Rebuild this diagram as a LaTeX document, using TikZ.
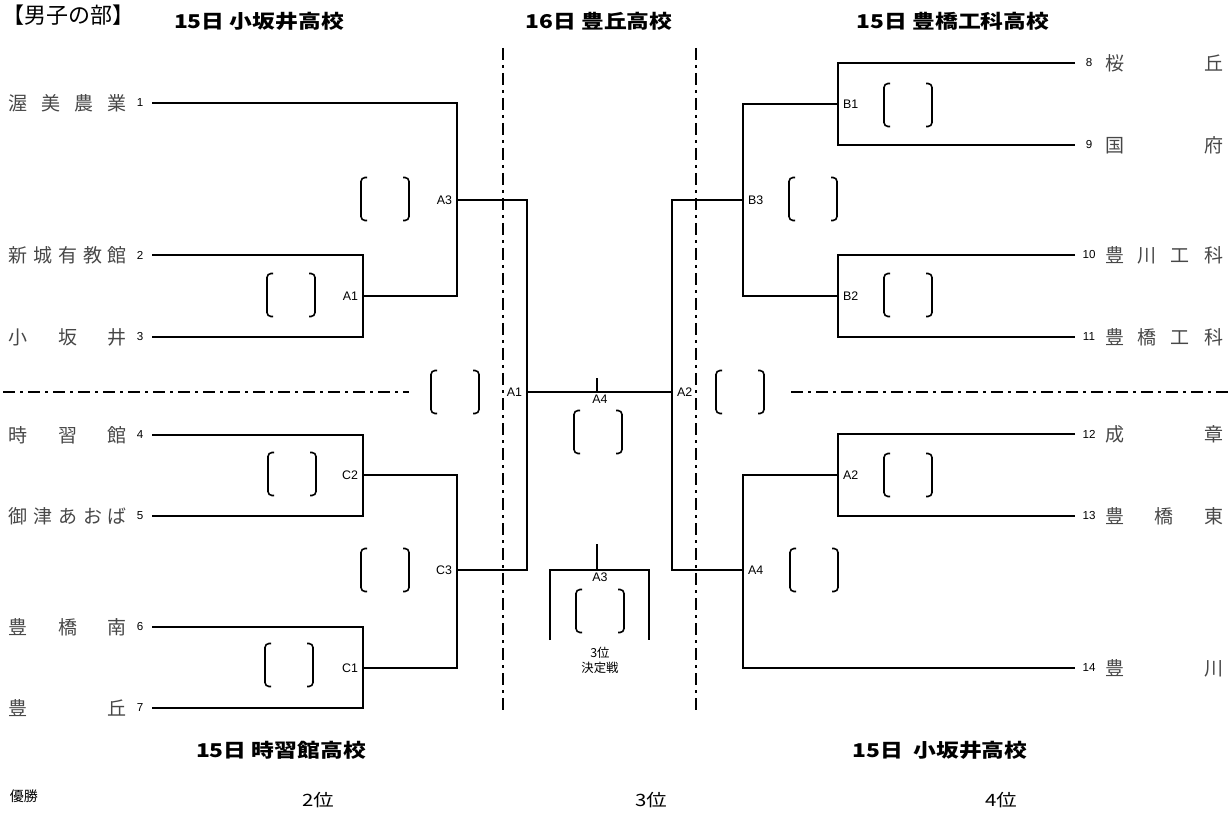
\documentclass[tikz,border=0pt]{standalone}
\usepackage{fontspec}
\setmainfont{Liberation Sans}
\newfontfamily\jp{Noto Sans CJK JP}
\newfontfamily\jpw{Noto Sans CJK JP}[FakeStretch=1.2]
\usetikzlibrary{calc}
\tikzset{
  every picture/.style={
    line width=1pt
  },
  team/.style={
    font=\jp\fontsize{9.5}{10}\selectfont, text=black!72,
    inner sep=0pt
  },
  seed/.style={
    font=\fontsize{5.8}{6}\selectfont, inner sep=0pt
  },
  game/.style={
    font=\fontsize{6.2}{7}\selectfont, inner sep=2pt
  },
  head/.style={
    font=\jpw\bfseries\fontsize{9.5}{10}\selectfont, inner sep=0pt
  },
  place/.style={
    font=\jpw\fontsize{8.5}{9}\selectfont, inner sep=0pt
  },
  sep/.style={
    dash pattern=on 6pt off 2.5pt on 1.5pt off 2.5pt
  },
  kakko/.pic={
    \draw[line width=0.8pt,rounded corners=2pt] (-18,-21.5) -- (-24,-21.5) -- (-24,21.5) -- (-18,21.5);
    \draw[line width=0.8pt,rounded corners=2pt] (18,-21.5) -- (24,-21.5) -- (24,21.5) -- (18,21.5);
  }
}
\newcommand\namebox[1]{\makebox[59pt]{#1}}

\begin{document}
\begin{tikzpicture}[x=0.5pt,y=-0.5pt]
    \useasboundingbox (0,0) rectangle (1232,818);
    \node [font=\jp\fontsize{11}{12}\selectfont,inner sep=0pt,anchor=west] (title) at (2,15) {【男子の部】};
    \node [head] (h1) at (259,21) {15日 小坂井高校};
    \node [head] (h2) at (599,21) {16日 豊丘高校};
    \node [head] (h3) at (953,21) {15日 豊橋工科高校};
    \node [head] (h4) at (281,750) {15日 時習館高校};
    \node [head] (h5) at (940,750) {15日\ \ 小坂井高校};

    \node [team,anchor=west] (n1) at (8,103) {\namebox{渥\hfill 美\hfill 農\hfill 業}};
    \node [team,anchor=west] (n2) at (8,255) {\namebox{新\hfill 城\hfill 有\hfill 教\hfill 館}};
    \node [team,anchor=west] (n3) at (8,337) {\namebox{小\hfill 坂\hfill 井}};
    \node [team,anchor=west] (n4) at (8,435) {\namebox{時\hfill 習\hfill 館}};
    \node [team,anchor=west] (n5) at (8,516) {\namebox{御\hfill 津\hfill あ\hfill お\hfill ば}};
    \node [team,anchor=west] (n6) at (8,627) {\namebox{豊\hfill 橋\hfill 南}};
    \node [team,anchor=west] (n7) at (8,708) {\namebox{豊\hfill 丘}};
    \node [team,anchor=west] (n8) at (1104,63) {\namebox{桜\hfill 丘}};
    \node [team,anchor=west] (n9) at (1104,145) {\namebox{国\hfill 府}};
    \node [team,anchor=west] (n10) at (1104,255) {\namebox{豊\hfill 川\hfill 工\hfill 科}};
    \node [team,anchor=west] (n11) at (1104,337) {\namebox{豊\hfill 橋\hfill 工\hfill 科}};
    \node [team,anchor=west] (n12) at (1104,434) {\namebox{成\hfill 章}};
    \node [team,anchor=west] (n13) at (1104,516) {\namebox{豊\hfill 橋\hfill 東}};
    \node [team,anchor=west] (n14) at (1104,668) {\namebox{豊\hfill 川}};

    \node [seed] (s1) at (140,103) {1};
    \node [seed] (s2) at (140,255) {2};
    \node [seed] (s3) at (140,337) {3};
    \node [seed] (s4) at (140,435) {4};
    \node [seed] (s5) at (140,516) {5};
    \node [seed] (s6) at (140,627) {6};
    \node [seed] (s7) at (140,708) {7};
    \node [seed] (s8) at (1089,63) {8};
    \node [seed] (s9) at (1089,145) {9};
    \node [seed] (s10) at (1089,255) {10};
    \node [seed] (s11) at (1089,337) {11};
    \node [seed] (s12) at (1089,434) {12};
    \node [seed] (s13) at (1089,516) {13};
    \node [seed] (s14) at (1089,668) {14};

    \coordinate (t1) at (152,103);
    \coordinate (t2) at (152,255);
    \coordinate (t3) at (152,337);
    \coordinate (t4) at (152,435);
    \coordinate (t5) at (152,516);
    \coordinate (t6) at (152,627);
    \coordinate (t7) at (152,708);
    \coordinate (t8) at (1075,63);
    \coordinate (t9) at (1075,145);
    \coordinate (t10) at (1075,255);
    \coordinate (t11) at (1075,337);
    \coordinate (t12) at (1075,434);
    \coordinate (t13) at (1075,516);
    \coordinate (t14) at (1075,668);

    \coordinate [label={[game]left:A1}] (la1) at (363,296);
    \coordinate [label={[game]left:A3}] (la3) at (457,200);
    \coordinate [label={[game]left:C2}] (lc2) at (363,475);
    \coordinate [label={[game]left:C1}] (lc1) at (363,668);
    \coordinate [label={[game]left:C3}] (lc3) at (457,570);
    \coordinate [label={[game]left:A1}] (fa1) at (527,392);
    \coordinate [label={[game]right:A2}] (fa2) at (672,392);
    \coordinate [label={[game]right:B1}] (rb1) at (838,104);
    \coordinate [label={[game]right:B2}] (rb2) at (838,296);
    \coordinate [label={[game]right:B3}] (rb3) at (743,200);
    \coordinate [label={[game]right:A2}] (ra2) at (838,475);
    \coordinate [label={[game]right:A4}] (ra4) at (743,570);

    \draw (t2) -| (la1) |- (t3);
    \draw (t1) -| (la3) |- (la1);
    \draw (t4) -| (lc2) |- (t5);
    \draw (t6) -| (lc1) |- (t7);
    \draw (lc2) -| (lc3) |- (lc1);
    \draw (la3) -| (fa1) |- (lc3);
    \draw (fa1) -- (fa2);
    \draw (t8) -| (rb1) |- (t9);
    \draw (t10) -| (rb2) |- (t11);
    \draw (rb1) -| (rb3) |- (rb2);
    \draw (t12) -| (ra2) |- (t13);
    \draw (ra2) -| (ra4) |- (t14);
    \draw (rb3) -| (fa2) |- (ra4);

    \coordinate (fin) at (597,392);
    \coordinate (fint) at (597,378);
    \draw (fint) -- (fin);
    \node [game,inner sep=0pt,anchor=north] (la4) at (600,393.5) {A4};

    \coordinate (thd) at (597,570);
    \coordinate (thdt) at (597,544);
    \coordinate (thl) at (550,640);
    \coordinate (thr) at (649,640);
    \draw (thl) |- (thd) -| (thr);
    \draw (thdt) -- (thd);
    \node [game,inner sep=0pt,anchor=north] (la3b) at (600,572) {A3};
    \node [font=\jp\fontsize{6.2}{7.5}\selectfont,align=center,inner sep=0pt] (third) at (600,660) {3位\\決定戦};

    \foreach \x/\y in {385/199, 291/295, 455/392, 292/474, 385/570, 289/665,
        598/432, 600/611, 740/392, 908/105, 813/199, 908/295, 908/475, 814/570}
      \pic at (\x,\y) {kakko};

    \draw [sep] (3,392) -- (409,392);
    \draw [sep] (791,392) -- (1232,392);
    \draw [sep] (503,48) -- (503,710);
    \draw [sep] (696,48) -- (696,710);

    \node [font=\jp\fontsize{7}{8}\selectfont,inner sep=0pt,anchor=west] (win) at (9,796) {優勝};
    \node [place] (p2) at (318,800) {2位};
    \node [place] (p3) at (651,800) {3位};
    \node [place] (p4) at (1001,800) {4位};
  \end{tikzpicture}
\end{document}
